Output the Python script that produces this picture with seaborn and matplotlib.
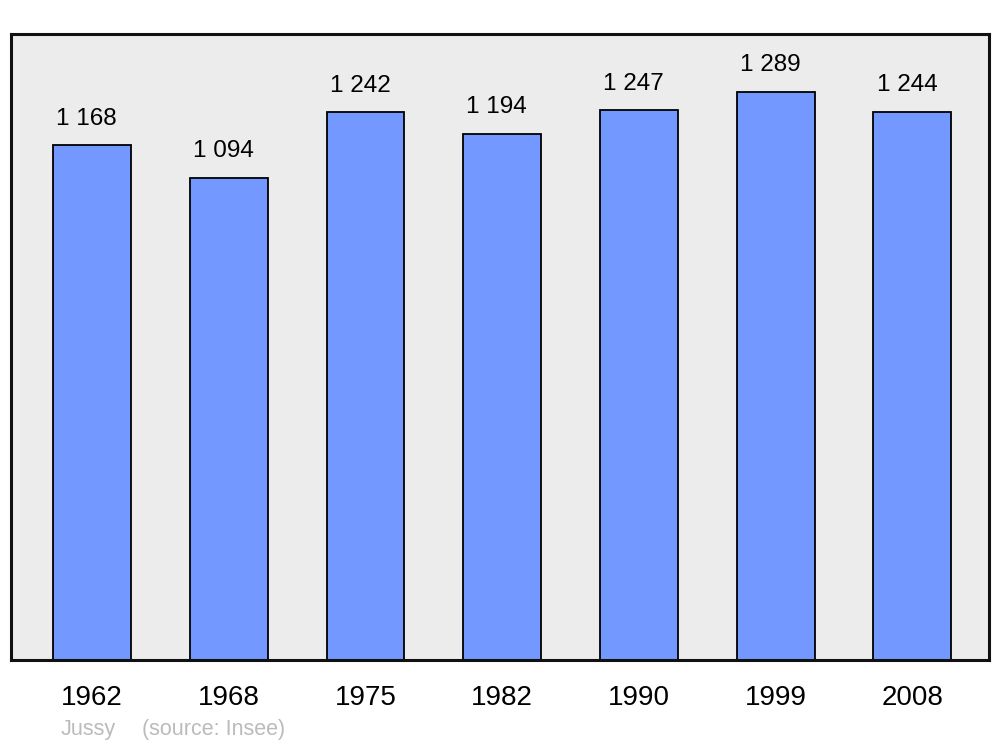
import matplotlib
matplotlib.use("Agg")
import matplotlib.pyplot as plt
import seaborn as sns
import pandas as pd

# population data (Jussy, source Insee)
years = ["1962", "1968", "1975", "1982", "1990", "1999", "2008"]
population = [1168, 1094, 1242, 1194, 1247, 1289, 1244]

df = pd.DataFrame({"year": years, "pop": population})

sns.set_theme(style="white")
plt.rcParams["font.family"] = ["Liberation Sans", "DejaVu Sans"]

fig = plt.figure(figsize=(10, 7.47), dpi=100)
ax = fig.add_axes([0.011, 0.1165, 0.978, 0.838])
ax.set_facecolor("#ececec")

sns.barplot(data=df, x="year", y="pop", color="#7398ff", saturation=1,
            width=0.57, edgecolor="black", linewidth=1.3, ax=ax)

for i, v in enumerate(population):
    label = f"{v:,}".replace(",", " ")
    ax.annotate(label, (i, v), xytext=(-4, 11), textcoords="offset points",
                ha="center", va="bottom", fontsize=17.5, color="black")

ax.set_xlim(-0.593, 6.56)
ax.set_ylim(0, 1420)
ax.set_yticks([])
ax.set_xlabel("")
ax.set_ylabel("")
ax.tick_params(axis="x", length=0, pad=18, labelsize=20, labelcolor="black")
for s in ax.spines.values():
    s.set_linewidth(2.2)
    s.set_color("#111111")

fig.text(0.061, 0.0228, "Jussy", color="#bbbbbb",
         fontsize=15.5, ha="left", va="center")
fig.text(0.142, 0.0228, "(source: Insee)", color="#bbbbbb",
         fontsize=15.5, ha="left", va="center")

fig.savefig("out.png", dpi=100)
